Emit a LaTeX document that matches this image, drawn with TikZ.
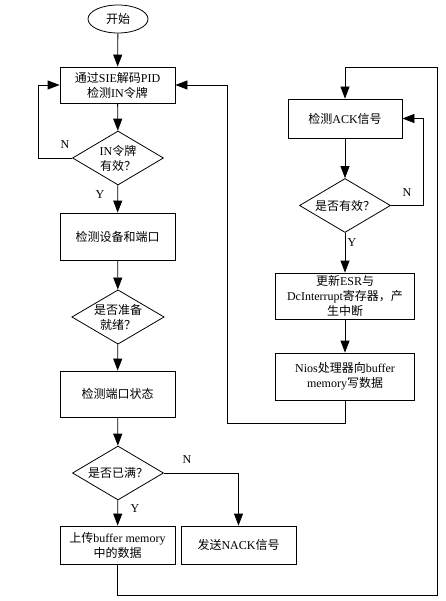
\documentclass[tikz,border=0pt]{standalone}
\usepackage{fontspec}
\setmainfont{Liberation Serif}
\newfontfamily\cjk{Noto Sans CJK SC}
\usetikzlibrary{shapes.geometric,arrows.meta}
\newcommand{\zh}[1]{{\cjk #1}}

\begin{document}
\begin{tikzpicture}[%
    x=1pt,y=-1pt,%
    line width=0.8pt,%
    every node/.style={font=\fontsize{12}{15}\selectfont},%
  ]
  % Organigramme USB IN

  %
  % Définitions
  %
  \tikzset{
    etape/.style={draw, rectangle, minimum width=115pt, align=center, inner sep=1pt},
    test/.style={draw, diamond, aspect=1.7, minimum width=91pt, minimum height=54pt,
      inner sep=0pt, align=center},
    debut/.style={draw, ellipse, minimum width=60pt, minimum height=28pt, inner sep=0pt},
    fleche/.style={-{Triangle[length=12pt,width=9pt]}},
  }
  \pgfmathsetmacro{\xg}{117.5};%
  \pgfmathsetmacro{\xd}{345};%
  \pgfmathsetmacro{\xn}{238.5};%
  \pgfmathsetmacro{\xb}{38};%
  \pgfmathsetmacro{\xr}{227};%
  \pgfmathsetmacro{\xa}{423};%
  \pgfmathsetmacro{\xe}{437};%

  \pgfmathsetmacro{\yh}{67};%
  \pgfmathsetmacro{\yr}{423};%
  \pgfmathsetmacro{\yf}{595};%

  \useasboundingbox (0,0) rectangle (445,601);

  %
  % Dessin
  %
  % Colonne gauche
  \node[debut] (D) at (118,19) {\zh{开始}};
  \node[etape, minimum height=36pt] (B1) at (\xg,85)
  {\zh{通过}SIE\zh{解码}PID\\\zh{检测}IN\zh{令牌}};
  \node[test] (T1) at (118,158) {IN\zh{令牌}\\\zh{有效？}};
  \node[etape, minimum height=47pt] (B2) at (\xg,236.5) {\zh{检测设备和端口}};
  \node[test] (T2) at (118,317) {\zh{是否准备}\\\zh{就绪？}};
  \node[etape, minimum height=46pt] (B3) at (\xg,394) {\zh{检测端口状态}};
  \node[test] (T3) at (118,473) {\zh{是否已满？}};
  \node[etape, minimum height=38pt] (B4) at (\xg,545)
  {\zh{上传}buffer memory\\\zh{中的数据}};
  \node[etape, minimum height=38pt] (B5) at (\xn,545) {\zh{发送}NACK\zh{信号}};

  % Colonne droite
  \node[etape, minimum width=114pt, minimum height=39pt] (A1) at (\xd,118.5)
  {\zh{检测}ACK\zh{信号}};
  \node[test] (T4) at (\xd,205.5) {\zh{是否有效？}};
  \node[etape, minimum width=139pt, minimum height=46pt] (A2) at (\xd,296)
  {\zh{更新}ESR\zh{与}\\DcInterrupt\zh{寄存器，产}\\\zh{生中断}};
  \node[etape, minimum width=139pt, minimum height=47pt] (A3) at (\xd,376.5)
  {Nios\zh{处理器向}buffer\\memory\zh{写数据}};

  % Coins
  \coordinate (g1) at (\xb,158);
  \coordinate (d1) at (\xa,205.5);
  \coordinate (r1) at (\xd,\yr);
  \coordinate (r2) at (\xr,\yr);
  \coordinate (f1) at (\xg,\yf);
  \coordinate (f2) at (\xe,\yh);

  % Liaisons
  \draw[fleche] (D) -- (B1);
  \draw[fleche] (B1) -- (T1);
  \draw[fleche] (T1.west) -- (g1) |- (B1.west);
  \draw[fleche] (T1) -- (B2);
  \draw[fleche] (B2) -- (T2);
  \draw[fleche] (T2) -- (B3);
  \draw[fleche] (B3) -- (T3);
  \draw[fleche] (T3) -- (B4);
  \draw[fleche] (T3.east) -| (B5);
  \draw[fleche] (B4) -- (f1) -| (f2) -| (A1);
  \draw[fleche] (A1) -- (T4);
  \draw[fleche] (T4.east) -- (d1) |- (A1.east);
  \draw[fleche] (T4) -- (A2);
  \draw[fleche] (A2) -- (A3);
  \draw[fleche] (A3) -- (r1) -- (r2) |- (B1.east);

  % Étiquettes
  \node (n1) at (65,145) {N};
  \node (y1) at (100,195) {Y};
  \node (n2) at (187,460) {N};
  \node (y2) at (135,509) {Y};
  \node (n3) at (407,193) {N};
  \node (y3) at (352,243) {Y};

\end{tikzpicture}
\end{document}
